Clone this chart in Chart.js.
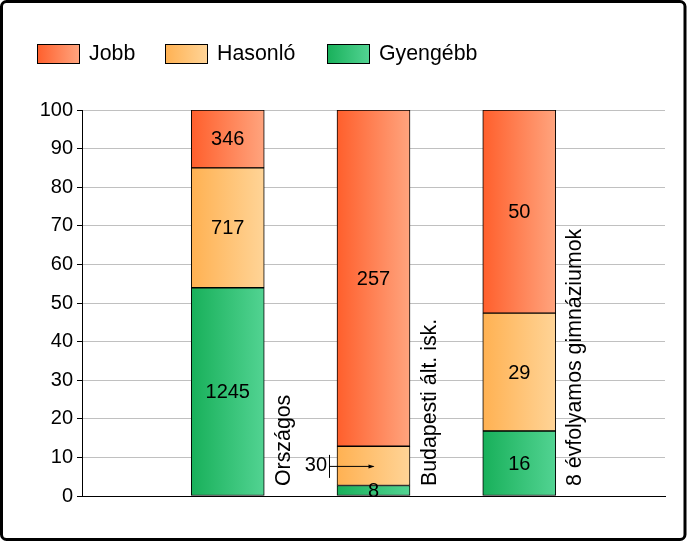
<!DOCTYPE html>
<html>
<head>
<meta charset="utf-8">
<script src="https://cdn.jsdelivr.net/npm/chart.js@4/dist/chart.umd.min.js"></script>
<style>
  html, body { margin: 0; padding: 0; background: #fff; }
  #wrap { width: 687px; height: 541px; position: relative; }
</style>
</head>
<body>
<div id="wrap"><canvas id="c" width="687" height="541"></canvas></div>
<script>
// ---- data ----
const categories = ['', 'Országos', 'Budapesti ált. isk.', '8 évfolyamos gimnáziumok', ''];
const seriesNames = ['Gyengébb', 'Hasonló', 'Jobb'];
const gyengebb = [null, 1245, 8, 16, null];
const hasonlo  = [null, 717, 30, 29, null];
const jobb     = [null, 346, 257, 50, null];
const yTicks   = [0, 10, 20, 30, 40, 50, 60, 70, 80, 90, 100];

// ---- styles ----
const FONT = 'Arial, "Liberation Sans", sans-serif';
const colors = {
  'Gyengébb': ['#18b05a', '#52d392'],
  'Hasonló':  ['#ffb152', '#ffd497'],
  'Jobb':     ['#ff5f2c', '#ffa47e']
};
const counts = [gyengebb, hasonlo, jobb];
const totals = categories.map((_, i) => counts.reduce((s, a) => s + (a[i] || 0), 0));
const pct = arr => arr.map((v, i) => v == null ? null : v / totals[i] * 100);

const BAR_W = 73;
function grad(ctx, name) {
  const chart = ctx.chart;
  const c = colors[name];
  if (!chart.chartArea || ctx.type !== 'data') return c[0];
  const cx = chart.scales.x.getPixelForValue(ctx.dataIndex);
  const g = chart.ctx.createLinearGradient(cx - BAR_W / 2, 0, cx + BAR_W / 2, 0);
  g.addColorStop(0, c[0]);
  g.addColorStop(1, c[1]);
  return g;
}

const datasets = seriesNames.map((name, k) => ({
  label: name,
  data: pct(counts[k]),
  counts: counts[k],
  backgroundColor: ctx => grad(ctx, name),
  borderColor: '#000',
  borderWidth: 1,
  borderSkipped: false,
  barThickness: BAR_W
}));

const overlay = {
  id: 'overlay',
  afterDatasetsDraw(chart) {
    const ctx = chart.ctx;
    const xs = chart.scales.x;
    ctx.save();
    // value labels
    chart.data.datasets.forEach((ds, di) => {
      const meta = chart.getDatasetMeta(di);
      meta.data.forEach((el, i) => {
        const v = ds.counts[i];
        if (v == null) return;
        const cy = (el.y + el.base) / 2;
        ctx.fillStyle = '#000';
        ctx.font = '20px ' + FONT;
        ctx.textBaseline = 'middle';
        if (ds.label === 'Hasonló' && categories[i] === 'Budapesti ált. isk.') {
          const left = el.x - BAR_W / 2;
          ctx.textAlign = 'right';
          ctx.fillText(String(v), left - 10, cy);
          ctx.strokeStyle = '#000';
          ctx.lineWidth = 1;
          ctx.beginPath();
          ctx.moveTo(left - 7.5, cy - 11);
          ctx.lineTo(left - 7.5, cy + 12);
          ctx.moveTo(left - 7.5, cy + 0.5);
          ctx.lineTo(el.x, cy + 0.5);
          ctx.stroke();
          ctx.beginPath();
          ctx.moveTo(el.x + 1, cy + 0.5);
          ctx.lineTo(el.x - 5, cy - 1.5);
          ctx.lineTo(el.x - 5, cy + 2.5);
          ctx.closePath();
          ctx.fill();
        } else {
          ctx.textAlign = 'center';
          ctx.fillText(String(v), el.x, cy + 1);
        }
      });
    });
    // category labels (vertical)
    ctx.font = '21.33px ' + FONT;
    ctx.fillStyle = '#000';
    ctx.textAlign = 'left';
    ctx.textBaseline = 'alphabetic';
    categories.forEach((name, i) => {
      if (!name) return;
      const x = xs.getPixelForValue(i) + 62;
      ctx.save();
      ctx.translate(x, 486);
      ctx.rotate(-Math.PI / 2);
      ctx.fillText(name, 0, 0);
      ctx.restore();
    });
    ctx.restore();
  },
  afterDraw(chart) {
    const ctx = chart.ctx;
    ctx.save();
    // legend
    const legendOrder = ['Jobb', 'Hasonló', 'Gyengébb'];
    const boxX = [37, 165, 327];
    ctx.font = '21.33px ' + FONT;
    ctx.textBaseline = 'middle';
    ctx.textAlign = 'left';
    legendOrder.forEach((name, k) => {
      const x = boxX[k], y = 44, w = 42, h = 19;
      const g = ctx.createLinearGradient(x, 0, x + w, 0);
      g.addColorStop(0, colors[name][0]);
      g.addColorStop(1, colors[name][1]);
      ctx.fillStyle = g;
      ctx.fillRect(x + 0.5, y + 0.5, w, h);
      ctx.strokeStyle = '#000';
      ctx.lineWidth = 1;
      ctx.strokeRect(x + 0.5, y + 0.5, w, h);
      ctx.fillStyle = '#000';
      ctx.fillText(name, x + w + 10, y + h / 2 + 1);
    });
    // outer frame
    ctx.strokeStyle = '#000';
    ctx.lineWidth = 3;
    ctx.beginPath();
    if (ctx.roundRect) ctx.roundRect(1.5, 1.5, 683.5, 538, 5);
    else ctx.rect(1.5, 1.5, 683.5, 538);
    ctx.stroke();
    ctx.restore();
  }
};

new Chart(document.getElementById('c'), {
  type: 'bar',
  data: { labels: categories, datasets },
  plugins: [overlay],
  options: {
    responsive: false,
    animation: false,
    devicePixelRatio: 1,
    layout: { padding: { top: 110, bottom: 45, left: 0, right: 22 } },
    plugins: { legend: { display: false }, tooltip: { enabled: false } },
    scales: {
      x: {
        stacked: true,
        offset: false,
        afterFit(scale) { scale.height = 0; },
        grid: { display: false },
        ticks: { display: false },
        border: { display: true, color: '#000', width: 1 }
      },
      y: {
        stacked: true,
        min: 0,
        max: 100,
        afterFit(scale) { scale.width = 82; },
        afterBuildTicks(scale) { scale.ticks = yTicks.map(v => ({ value: v })); },
        ticks: {
          color: '#000',
          font: { family: FONT, size: 20 },
          padding: 4,
          callback: v => String(v)
        },
        grid: { color: '#c0c0c0', tickColor: '#000', tickLength: 5, lineWidth: 1 },
        border: { display: true, color: '#000', width: 1 }
      }
    }
  }
});
</script>
</body>
</html>
